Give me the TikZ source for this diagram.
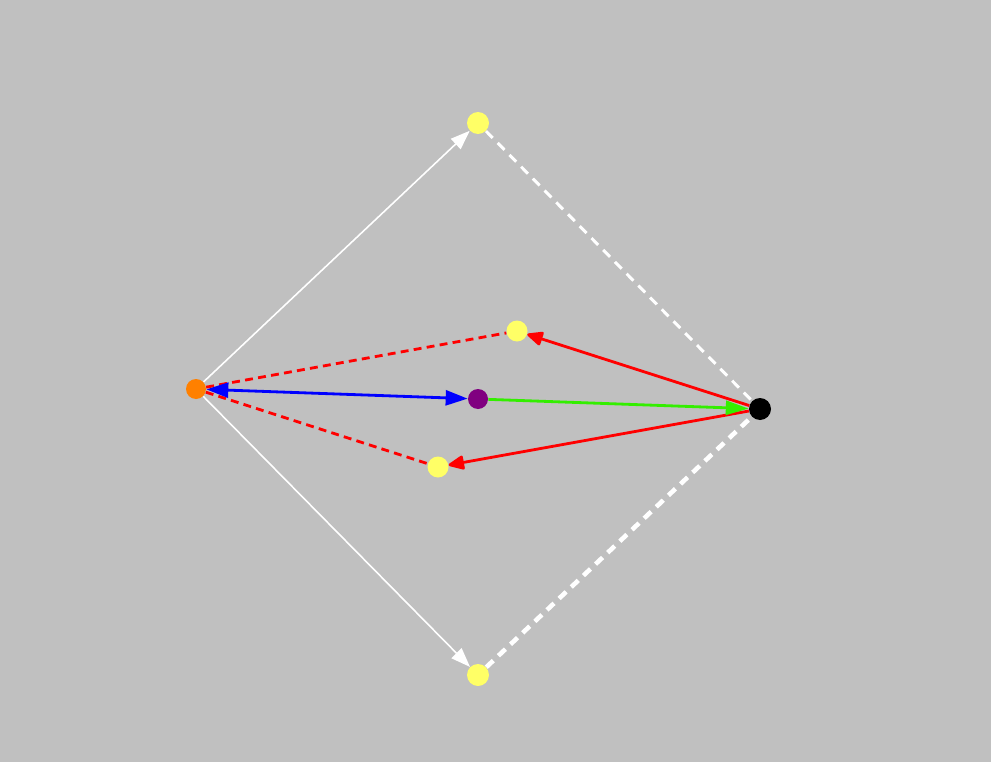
\documentclass[tikz,border=0pt]{standalone}
\usetikzlibrary{arrows.meta}
\definecolor{bg}{HTML}{C0C0C0}
\definecolor{ylw}{HTML}{FFFF66}
\definecolor{orng}{HTML}{FF8000}
\definecolor{purp}{HTML}{800080}
\definecolor{grn}{HTML}{33EE00}
\tikzset{
  dot/.style={circle, inner sep=0pt, minimum size=0.42cm},
  whitearr/.style={draw=white, line width=0.9pt, -{Triangle[length=11pt,width=8pt]}},
  whitedash/.style={draw=white, dash pattern=on 5.5pt off 4pt},
  reddash/.style={draw=red, line width=1.6pt, dash pattern=on 4.5pt off 3pt},
  redarr/.style={draw=red, line width=1.6pt, -{Triangle[round,length=10pt,width=8.5pt]}},
  bluearr/.style={draw=blue, line width=1.6pt, {Triangle[length=12.5pt,width=8.5pt]}-{Triangle[length=12.5pt,width=8.5pt]}},
  greenarr/.style={draw=grn, line width=1.6pt, -{Triangle[length=13pt,width=8pt]}},
}
\begin{document}
\begin{tikzpicture}
\fill[bg] (0,0) rectangle (19.82,-15.24);
\useasboundingbox (0,0) rectangle (19.82,-15.24);
\node[dot, fill=orng, minimum size=0.4cm] (o) at (3.92,-7.78) {};
\node[dot, fill=purp, minimum size=0.4cm] (p) at (9.56,-7.98) {};
\node[dot, fill=black, minimum size=0.44cm] (k) at (15.2,-8.18) {};
\node[dot, fill=ylw, minimum size=0.44cm] (t) at (9.56,-2.46) {};
\node[dot, fill=ylw, minimum size=0.44cm] (b) at (9.56,-13.5) {};
\node[dot, fill=ylw, minimum size=0.42cm] (u) at (10.34,-6.62) {};
\node[dot, fill=ylw, minimum size=0.42cm] (l) at (8.76,-9.34) {};
\draw[whitearr] (o) -- (t);
\draw[whitearr] (o) -- (b);
\draw[whitedash, line width=1.7pt] (t) -- (k);
\draw[whitedash, line width=2.6pt] (b) -- (k);
\draw[reddash] (o) -- (u);
\draw[reddash] (o) -- (l);
\draw[redarr] (k) -- (u);
\draw[redarr] (k) -- (l);
\draw[bluearr] (o) -- (p);
\draw[greenarr] (p) -- (k);
\end{tikzpicture}
\end{document}
